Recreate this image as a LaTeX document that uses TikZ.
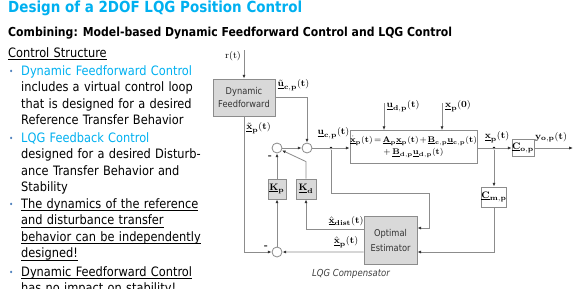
\documentclass[tikz,border=0pt]{standalone}
\usepackage{amsmath,amssymb}
\usepackage[no-math]{fontspec}
\newfontfamily\slidefont{DejaVu Sans}[FakeStretch=0.88]
\usetikzlibrary{arrows.meta,positioning,calc}
\definecolor{titleblue}{RGB}{0,176,240}
\definecolor{dotblue}{RGB}{79,129,189}
\definecolor{linegray}{RGB}{140,140,140}
\newcommand{\bv}[1]{\underline{\mathbf{#1}}}
\newcommand{\ulbox}[1]{\leavevmode\setbox0\hbox{#1}\rlap{\rule[-2.2pt]{\wd0}{0.55pt}}\box0}

\begin{document}
\begin{tikzpicture}[x=0.85pt, y=-0.85pt, >={Latex[length=3.2pt,width=2.6pt,color=black!80]},
  txt/.style={anchor=base west, inner sep=0pt, align=left, text width=200pt, font=\slidefont\fontsize{11}{13.9}\selectfont},
  head/.style={anchor=base west, inner sep=0pt},
  bul/.style={anchor=base west, inner sep=0pt, text=dotblue, font=\slidefont\fontsize{7}{8}\selectfont},
  blk/.style={rectangle, draw=linegray, fill=black!15, line width=0.7pt, inner sep=0pt, align=center, font=\slidefont\fontsize{8}{10.8}\selectfont, text=black!80},
  wblk/.style={blk, fill=white, font=\fontsize{8}{10.2}\selectfont, text=black},
  sum/.style={circle, draw=linegray, fill=white, line width=0.7pt, minimum size=8.5pt, inner sep=0pt},
  lbl/.style={inner sep=0pt, font=\fontsize{8}{9.6}\selectfont},
  dot/.style={circle, fill=black, minimum size=2.4pt, inner sep=0pt},
  sig/.style={draw=linegray, line width=0.7pt}]
\useasboundingbox (0,0) rectangle (576,288);
% slide text
\node[head, font=\slidefont\bfseries\fontsize{13}{15}\selectfont, text=titleblue] (title) at (8,12) {Design of a 2DOF LQG Position Control};
\node[head, font=\slidefont\bfseries\fontsize{10.5}{13}\selectfont] (subtitle) at (8,36) {Combining: Model-based Dynamic Feedforward Control and LQG Control};
\node[txt] (cs) at (8,57) {\ulbox{Control Structure}};
\node[bul] (d1) at (9,74) {\textbullet}; \node[bul] (d2) at (9,141) {\textbullet}; \node[bul] (d3) at (9,207) {\textbullet}; \node[bul] (d4) at (9,275) {\textbullet};
\node[txt] (b1) at (21,75.5) {\textcolor{titleblue}{Dynamic Feedforward Control}\\ includes a virtual control loop\\ that is designed for a desired\\ Reference Transfer Behavior};
\node[txt] (b2) at (21,142.5) {\textcolor{titleblue}{LQG Feedback Control}\\ designed for a desired Disturb-\\ ance Transfer Behavior and\\ Stability};
\node[txt] (b3) at (21,208.5) {\ulbox{The dynamics of the reference}\\ \ulbox{and disturbance transfer}\\ \ulbox{behavior can be independently}\\ \ulbox{designed!}};
\node[txt] (b4) at (21,276.5) {\ulbox{Dynamic Feedforward Control}\\ \ulbox{has no impact on stability!}};
% blocks
\node[blk, minimum width=52.7pt, minimum height=31.5pt] (ff) at (244,97.5) {Dynamic\\Feedforward};
\node[sum] (s1) at (277,148) {};
\node[sum] (s2) at (307,148) {};
\node[wblk, minimum width=104.6pt, minimum height=28pt, font=\fontsize{6.6}{10.5}\selectfont] (plant) at (413.5,147) {$\medmuskip=1.5mu\thickmuskip=2.5mu\relax \underline{\dot{\mathbf{x}}}_{\mathbf{p}}\mathbf{(t)} = \bv{A}_{\mathbf{p}}\bv{x}_{\mathbf{p}}\mathbf{(t)} + \bv{B}_{\mathbf{c,p}}\bv{u}_{\mathbf{c,p}}\mathbf{(t)}$\\ $+\,\bv{B}_{\mathbf{d,p}}\bv{u}_{\mathbf{d,p}}\mathbf{(t)}$};
\node[wblk, minimum width=17pt, minimum height=14.5pt] (cop) at (523,148) {$\bv{C}_{\mathbf{o,p}}$};
\node[wblk, minimum width=18pt, minimum height=17pt] (cmp) at (494,197) {$\bv{C}_{\mathbf{m,p}}$};
\node[blk, font=\fontsize{8}{9.6}\selectfont, text=black, minimum width=15.3pt, minimum height=17pt] (kp) at (277,189) {$\bv{K}_{\mathbf{p}}$};
\node[blk, font=\fontsize{8}{9.6}\selectfont, text=black, minimum width=17pt, minimum height=17pt] (kd) at (306,189) {$\bv{K}_{\mathbf{d}}$};
\node[blk, minimum width=45pt, minimum height=40.8pt, font=\slidefont\fontsize{8}{12.75}\selectfont] (est) at (390.5,240) {Optimal\\Estimator};
\node[sum] (s3) at (277,252) {};
\node[dot] (j1) at (331,148) {};
\node[dot] (j2) at (494,148) {};
\coordinate (rin) at (244,50);
\coordinate (udin) at (384,103);
\coordinate (x0in) at (442,103);
\coordinate (yout) at (573,148);
% signals
\draw[sig,->] (rin) -- (ff); \draw[sig,->] (ff.east) -| (s2); \draw[sig,->] (ff) |- (s3);
\draw[sig,->] (s3) -- (kp); \draw[sig,->] (kp) -- (s1); \draw[sig,->] (kd.north) -- ++(0,-17) -- (s1);
\draw[sig,->] (s1) -- (s2); \draw[sig,->] (s2) -- (s2 -| plant.west);
\draw[sig,->] (j1) |- ++(98,45) |- ([yshift=10.2pt]est.east);
\draw[sig,->] (udin) -- (udin |- plant.north); \draw[sig,->] (x0in) -- (x0in |- plant.north);
\draw[sig,->] (plant.east |- cop) -- (cop); \draw[sig,->] (cop) -- (yout);
\draw[sig,->] (j2) -- (cmp); \draw[sig,->] (cmp) |- ([yshift=-10.2pt]est.east);
\draw[sig,->] ([yshift=9.35pt]est.west) -| (kd); \draw[sig,->] ([yshift=-10.2pt]est.west) -- (s3);
% labels
\node[lbl] (rl) at (233,56) {$\mathrm{r(t)}$};
\node[lbl] (ufl) at (293.5,85) {$\underline{\tilde{\mathbf{u}}}_{\mathbf{c,p}}\mathbf{(t)}$};
\node[lbl] (xfl) at (258.5,128) {$\underline{\tilde{\mathbf{x}}}_{\mathbf{p}}\mathbf{(t)}$};
\node[lbl] (ul) at (333.5,133) {$\bv{u}_{\mathbf{c,p}}\mathbf{(t)}$};
\node[lbl] (udl) at (403,106) {$\bv{u}_{\mathbf{d,p}}\mathbf{(t)}$};
\node[lbl] (x0l) at (458,106) {$\bv{x}_{\mathbf{p}}\mathbf{(0)}$};
\node[lbl] (xl) at (497,137) {$\bv{x}_{\mathbf{p}}\mathbf{(t)}$};
\node[lbl] (yl) at (551,137) {$\mathbf{y}_{\mathbf{o,p}}\mathbf{(t)}$};
\node[lbl] (xdl) at (346,221) {$\underline{\hat{\mathbf{x}}}_{\mathbf{dist}}\mathbf{(t)}$};
\node[lbl] (xpl) at (346,242) {$\underline{\hat{\mathbf{x}}}_{\mathbf{p}}\mathbf{(t)}$};
\node[lbl] (m1) at (270,157) {\textbf{-}};
\node[lbl] (m2) at (266,247) {\textbf{-}};
\node[lbl, font=\slidefont\itshape\fontsize{8.2}{10}\selectfont, text=black!75] (cap) at (351,274) {LQG Compensator};
\end{tikzpicture}
\end{document}
